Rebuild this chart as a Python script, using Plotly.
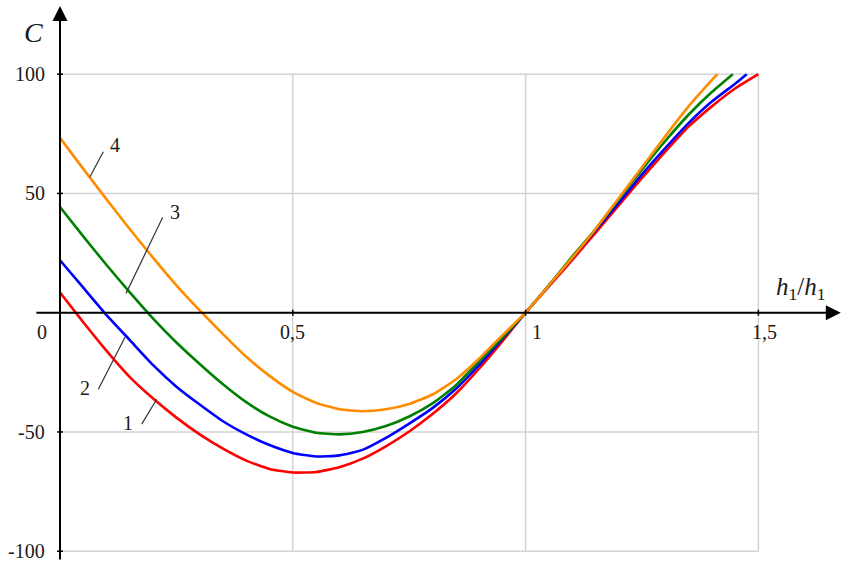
import plotly.graph_objects as go

# ---- data ----
x1 = [0, 0.05, 0.1, 0.15, 0.2, 0.25, 0.3, 0.35, 0.4, 0.45, 0.5, 0.55, 0.6, 0.65, 0.7, 0.75,
      0.8, 0.85, 0.9, 0.95, 1.0, 1.05, 1.1, 1.15, 1.2, 1.25, 1.3, 1.35, 1.4, 1.45, 1.5]
c1 = [8.5, -4, -16, -27, -36, -44, -51, -57, -62, -65.5, -67, -66.8, -64.8, -61.2, -56, -49.8,
      -42.5, -34, -23.5, -12, 0, 11, 22, 33.5, 45, 56.5, 67.5, 78, 86.5, 94, 100]

x2 = [0, 0.05, 0.1, 0.15, 0.2, 0.25, 0.3, 0.35, 0.4, 0.45, 0.5, 0.55, 0.6, 0.65, 0.7, 0.75,
      0.8, 0.85, 0.9, 0.95, 1.0, 1.05, 1.1, 1.15, 1.2, 1.25, 1.3, 1.35, 1.4, 1.45, 1.475]
c2 = [22, 10.5, -1, -11.5, -22, -31, -38.5, -45.5, -51, -55.5, -58.8, -60.3, -59.8, -57.5, -52.5, -46.5,
      -40, -32, -22, -11, 0, 11.5, 23, 34.5, 46, 58, 69, 79.5, 88.5, 96, 100]

x3 = [0, 0.05, 0.1, 0.15, 0.2, 0.25, 0.3, 0.35, 0.4, 0.45, 0.5, 0.55, 0.6, 0.65, 0.7, 0.75,
      0.8, 0.85, 0.9, 0.95, 1.0, 1.05, 1.1, 1.15, 1.2, 1.25, 1.3, 1.35, 1.4, 1.445]
c3 = [44.3, 32, 20, 8.5, -2.5, -12.5, -21.5, -30, -37.5, -43.5, -47.8, -50.3, -51, -50, -47.5, -43.5,
      -38, -30.5, -20.5, -10.5, 0, 11.5, 23.5, 35, 47.5, 60, 72, 83, 92.5, 100]

x4 = [0, 0.05, 0.1, 0.15, 0.2, 0.25, 0.3, 0.35, 0.4, 0.45, 0.5, 0.55, 0.6, 0.65, 0.7, 0.75,
      0.8, 0.85, 0.9, 0.95, 1.0, 1.05, 1.1, 1.15, 1.2, 1.25, 1.3, 1.35, 1.4, 1.412]
c4 = [73.3, 60.3, 47.5, 35, 23, 11.5, 1, -9, -18.5, -26.5, -33.2, -37.8, -40.5, -41.3, -40.5, -38.3,
      -34.3, -28, -19.3, -9.5, 0, 11.5, 23, 35, 48, 61, 74, 86.5, 97.5, 100]

series_names = ["1", "2", "3", "4"]
series_colors = ["#ff0000", "#0000ff", "#008000", "#ff8c00"]

x_grid = [0.5, 1.0, 1.5]
y_grid = [100, 50, -50, -100]
x_tick_labels = ["0", "0,5", "1", "1,5"]
x_tick_vals = [0, 0.5, 1.0, 1.5]
y_tick_labels = ["100", "50", "-50", "-100"]

# ---- figure ----
W, H = 842, 561
X0, X1 = -0.1289, 1.6796
Y0, Y1 = -104.1, 131.1
px_x = (X1 - X0) / W   # data units per pixel
px_y = (Y1 - Y0) / H

fig = go.Figure()

shapes = []
grid_col = "#d3d3d3"
for gx in x_grid:
    shapes.append(dict(type="line", x0=gx, x1=gx, y0=-100, y1=100,
                       line=dict(color=grid_col, width=1.5), layer="below"))
for gy in y_grid:
    shapes.append(dict(type="line", x0=0, x1=1.5, y0=gy, y1=gy,
                       line=dict(color=grid_col, width=1.5), layer="below"))
# small ticks
for gx in x_grid:
    shapes.append(dict(type="line", x0=gx, x1=gx, y0=-3 * px_y, y1=3 * px_y,
                       line=dict(color="black", width=1.5)))
for gy in y_grid:
    shapes.append(dict(type="line", x0=-3 * px_x, x1=3 * px_x, y0=gy, y1=gy,
                       line=dict(color="black", width=1.5)))

xs = [x1, x2, x3, x4]
cs = [c1, c2, c3, c4]
for xv, cv, nm, col in zip(xs, cs, series_names, series_colors):
    fig.add_trace(go.Scatter(x=xv, y=cv, mode="lines", name=nm,
                             line=dict(color=col, width=2.6, shape="spline", smoothing=0.5),
                             showlegend=False, hoverinfo="skip"))

annotations = []
# axes with arrows
annotations.append(dict(x=1.677, y=0, ax=-0.054, ay=0, axref="x", ayref="y", xref="x", yref="y",
                        text="", showarrow=True, arrowhead=2, arrowsize=1.5, arrowwidth=2,
                        arrowcolor="black"))
annotations.append(dict(x=0, y=128.6, ax=0, ay=-104.1, axref="x", ayref="y", xref="x", yref="y",
                        text="", showarrow=True, arrowhead=2, arrowsize=1.5, arrowwidth=2,
                        arrowcolor="black"))

serif = "Liberation Serif, Times New Roman, serif"
txt_col = "#1a1a1a"
# y tick labels
for lab, gy in zip(y_tick_labels, y_grid):
    annotations.append(dict(x=-13 * px_x, y=gy, text=lab, showarrow=False, xanchor="right",
                            yanchor="middle", font=dict(family=serif, size=20, color=txt_col)))
# x tick labels
x_label_offsets = [-18, 0, 11, 6]
for lab, gx, off in zip(x_tick_labels, x_tick_vals, x_label_offsets):
    annotations.append(dict(x=gx + off * px_x, y=-19 * px_y, text=lab, showarrow=False,
                            xanchor="center", yanchor="middle",
                            font=dict(family=serif, size=20, color=txt_col)))
# axis titles
annotations.append(dict(x=-27 * px_x, y=Y1 - 32 * px_y, text="<i>C</i>", showarrow=False,
                        xanchor="center", yanchor="middle",
                        font=dict(family=serif, size=28, color=txt_col)))
annotations.append(dict(x=1.5 + 42 * px_x, y=24 * px_y,
                        text="<i>h</i><sub>1</sub>/<i>h</i><sub>1</sub>", showarrow=False,
                        xanchor="center", yanchor="middle",
                        font=dict(family=serif, size=25, color=txt_col)))

# curve labels with leader lines
labels = [
    ("1", 0.1467, -46.4, 0.1755, -46.7, 0.2077, -36.3),
    ("2", 0.0537, -31.7, 0.0823, -32.1, 0.1396, -10.3),
    ("3", 0.247, 42.3, 0.2206, 40.0, 0.1418, 8.1),
    ("4", 0.118, 70.3, 0.093, 67.5, 0.0644, 57.0),
]
for t, lx, ly, ax0, ay0, ax1, ay1 in labels:
    annotations.append(dict(x=lx, y=ly, text=t, showarrow=False, xanchor="center",
                            yanchor="middle", font=dict(family=serif, size=20, color=txt_col)))
    shapes.append(dict(type="line", x0=ax0, y0=ay0, x1=ax1, y1=ay1,
                       line=dict(color="#333333", width=1.2)))

fig.update_layout(
    width=W, height=H, autosize=False,
    margin=dict(l=0, r=0, t=0, b=0),
    paper_bgcolor="white", plot_bgcolor="white",
    xaxis=dict(range=[X0, X1], visible=False, fixedrange=True),
    yaxis=dict(range=[Y0, Y1], visible=False, fixedrange=True),
    shapes=shapes, annotations=annotations,
)

fig.write_html("out.html", config={"displayModeBar": False},
               post_script="document.body.style.margin='0';document.body.style.overflow='hidden';")
